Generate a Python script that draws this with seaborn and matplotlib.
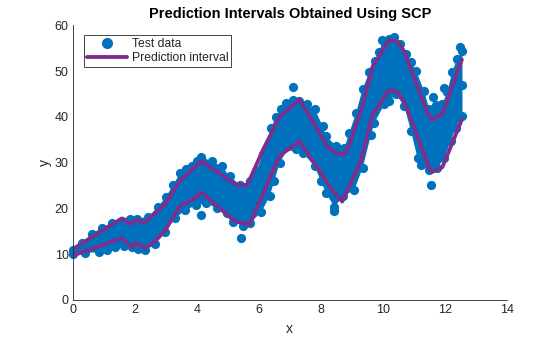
import matplotlib
matplotlib.use("Agg")
import matplotlib.pyplot as plt
import seaborn as sns
import pandas as pd
from matplotlib.lines import Line2D

# ---- data ----
# upper edge of the test-data cloud (marker centres)
cloud_top_x = [0.0, 0.3, 0.62, 0.95, 1.26, 1.6, 1.85, 2.06, 2.44, 2.76, 3.0, 3.24, 3.46, 3.65, 3.83,
               4.0, 4.15, 4.48, 4.8, 5.06, 5.39, 5.71, 5.92, 6.13, 6.4, 6.55, 6.73, 6.89, 7.1, 7.31,
               7.55, 7.8, 8.06, 8.17, 8.5, 8.76, 8.92, 9.14, 9.35, 9.57, 9.75, 9.89, 9.99, 10.2,
               10.37, 10.55, 10.75, 10.9, 11.07, 11.33, 11.5, 11.7, 11.92, 12.08, 12.24, 12.4, 12.57]
cloud_top_y = [10.8, 12.5, 14.5, 15.8, 16.9, 17.3, 17.6, 17.7, 18.2, 20.4, 22.5, 25.1, 27.7, 28.6, 29.2,
               30.3, 31.2, 30.3, 29.2, 27.0, 25.2, 25.9, 28.1, 31.8, 37.6, 40.0, 41.7, 43.1, 43.6, 43.5,
               42.8, 41.7, 38.0, 35.8, 33.6, 33.2, 36.5, 40.9, 46.1, 49.8, 52.3, 54.2, 56.7, 57.0,
               57.5, 56.0, 53.8, 52.0, 50.1, 45.7, 41.7, 42.5, 42.8, 45.4, 49.8, 52.7, 54.3]
# lower edge of the test-data cloud (marker centres)
cloud_bot_x = [0.0, 0.4, 0.83, 1.1, 1.37, 1.65, 1.9, 2.1, 2.33, 2.65, 2.97, 3.3, 3.62, 3.99, 4.31,
               4.65, 4.96, 5.17, 5.5, 5.71, 6.08, 6.35, 6.5, 6.67, 6.99, 7.2, 7.42, 7.8, 8.0, 8.17,
               8.44, 8.71, 9.08, 9.35, 9.62, 9.73, 10.05, 10.2, 10.42, 10.69, 10.91, 11.12, 11.23,
               11.5, 11.76, 11.98, 12.19, 12.35, 12.57]
cloud_bot_y = [10.1, 10.3, 10.4, 11.0, 11.5, 11.8, 11.5, 11.2, 10.8, 12.3, 14.8, 17.8, 19.6, 20.7, 21.1,
               20.0, 18.9, 17.0, 16.2, 16.7, 19.2, 22.6, 26.0, 29.9, 33.6, 33.0, 32.1, 29.2, 26.0, 23.3,
               20.3, 22.6, 24.0, 28.8, 36.1, 38.7, 42.7, 43.5, 44.9, 42.4, 36.9, 31.0, 29.5,
               28.3, 28.8, 31.0, 34.7, 37.6, 40.2]
# isolated test-data points
outlier_x = [4.12, 5.44, 7.1, 8.44, 11.55, 11.62, 11.98, 12.48, 12.57]
outlier_y = [18.6, 13.6, 46.6, 19.4, 25.0, 44.4, 46.3, 55.2, 47.0]

# prediction interval bounds
upper_x = [0.0, 1.58, 1.88, 2.06, 2.31, 2.97, 3.46, 4.15, 5.28, 5.63, 6.13, 6.67, 7.31, 8.22,
           8.49, 8.76, 8.92, 9.35, 9.67, 10.2, 10.48, 10.69, 11.44, 11.6, 11.92, 12.55]
upper_y = [11.1, 17.8, 16.6, 17.5, 16.9, 20.9, 26.1, 30.3, 25.1, 25.1, 32.7, 40.0, 43.8, 33.4,
           32.1, 31.8, 33.8, 42.6, 51.0, 56.8, 56.4, 54.3, 40.8, 39.4, 40.6, 52.5]
lower_x = [0.0, 1.58, 1.89, 2.06, 2.33, 2.6, 2.97, 3.46, 3.88, 4.15, 5.22, 5.7, 6.67, 6.97,
           7.31, 8.38, 8.69, 9.3, 9.66, 10.2, 10.48, 10.7, 11.52, 11.6, 11.92, 12.55]
lower_y = [9.7, 13.5, 11.5, 12.5, 11.3, 12.4, 15.1, 20.6, 21.9, 23.5, 17.2, 16.5, 31.5, 33.0,
           34.7, 23.9, 21.5, 30.5, 40.4, 45.9, 45.4, 43.2, 28.4, 28.0, 29.0, 39.4]

title = "Prediction Intervals Obtained Using SCP"
xticks = [0, 2, 4, 6, 8, 10, 12, 14]
yticks = [0, 10, 20, 30, 40, 50, 60]

BLUE = "#0072BD"
PURPLE = "#7E2F8E"
AX = "#262626"

sns.set_style("white")
plt.rcParams["font.family"] = ["Liberation Sans", "DejaVu Sans"]

fig = plt.figure(figsize=(5.6, 3.37), dpi=100)
ax = fig.add_axes([0.13, 0.11, 0.775, 0.815])

# cloud body
poly_x = cloud_top_x + cloud_bot_x[::-1]
poly_y = cloud_top_y + cloud_bot_y[::-1]
ax.fill(poly_x, poly_y, color=BLUE, lw=0, zorder=1)

pts = pd.DataFrame({"x": cloud_top_x + cloud_bot_x + outlier_x,
                    "y": cloud_top_y + cloud_bot_y + outlier_y})
sns.scatterplot(data=pts, x="x", y="y", ax=ax, color=BLUE, s=44, linewidth=0, zorder=2,
                legend=False, clip_on=False)

up = pd.DataFrame({"x": upper_x, "y": upper_y})
lo = pd.DataFrame({"x": lower_x, "y": lower_y})
sns.lineplot(data=up, x="x", y="y", ax=ax, color=PURPLE, lw=2.8, sort=False, zorder=3,
             estimator=None)
sns.lineplot(data=lo, x="x", y="y", ax=ax, color=PURPLE, lw=2.8, sort=False, zorder=3,
             estimator=None)

ax.set_xlim(0, 14)
ax.set_ylim(0, 60)
ax.set_xticks(xticks)
ax.set_yticks(yticks)
ax.tick_params(direction="in", length=3.2, width=0.6, colors=AX, labelsize=9, pad=3)
for s in ["top", "right"]:
    ax.spines[s].set_visible(False)
for s in ["left", "bottom"]:
    ax.spines[s].set_color(AX)
    ax.spines[s].set_linewidth(0.6)
    ax.spines[s].set_zorder(5)

ax.set_xlabel("x", fontsize=10, color=AX, labelpad=4)
ax.set_ylabel("y", fontsize=10, color=AX, labelpad=2)
ax.set_title(title, fontsize=10.5, fontweight="bold", color="black", pad=5)

handles = [Line2D([], [], marker="o", linestyle="none", color=BLUE, markersize=7),
           Line2D([], [], color=PURPLE, lw=2.8)]
leg = ax.legend(handles, ["Test data", "Prediction interval"], loc="upper left",
                bbox_to_anchor=(0.026, 0.963), borderaxespad=0, fontsize=8.7,
                frameon=True, fancybox=False, shadow=False, handlelength=3.3,
                handletextpad=0.4, labelspacing=0.15, borderpad=0.25)
leg.get_frame().set_edgecolor(AX)
leg.get_frame().set_linewidth(0.6)
leg.get_frame().set_alpha(1)

fig.savefig("out.png", dpi=100)
